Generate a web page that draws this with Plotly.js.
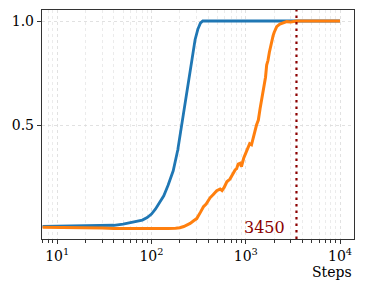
<!DOCTYPE html>
<html><head><meta charset="utf-8">
<script src="https://cdn.plot.ly/plotly-3.0.1.min.js"></script>
<style>html,body{margin:0;padding:0;background:#fff}#chart{width:366px;height:292px}</style>
</head><body><div id="chart"></div>
<script>
const blueSteps = [7,10,20,30,40,50,60,70,80,90,100,110,120,135,150,170,190,210,230,250,270,290,310,330,350,400,600,1000,2000,5000,10000];
const blueValues = [0.013,0.014,0.015,0.016,0.018,0.024,0.030,0.036,0.043,0.055,0.072,0.095,0.12,0.16,0.21,0.28,0.38,0.50,0.62,0.72,0.82,0.91,0.96,0.99,1.0,1.0,1.0,1.0,1.0,1.0,1.0];

const orangeSteps = [7,10,20,30,40,60,100,150,180,200,220,240,257,280,302,330,356,380,418,450,492,535,560,590,630,680,720,771,800,830,872,900,950,1000,1050,1100,1150,1200,1250,1300,1360,1420,1478,1520,1570,1620,1666,1720,1780,1830,1883,1950,2000,2128,2300,2500,2720,3000,3450,4000,5000,7000,10000];
const orangeValues = [0.008,0.008,0.007,0.005,0.003,0.002,0.002,0.003,0.004,0.006,0.012,0.020,0.027,0.040,0.050,0.080,0.107,0.120,0.150,0.165,0.184,0.192,0.185,0.200,0.227,0.240,0.262,0.284,0.290,0.312,0.316,0.300,0.340,0.365,0.380,0.410,0.405,0.444,0.470,0.500,0.524,0.580,0.628,0.640,0.700,0.730,0.788,0.810,0.850,0.880,0.900,0.930,0.945,0.973,0.985,0.990,0.997,0.995,1.0,1.0,1.0,1.0,1.0];

const markerStep = 3450;
const markerLabel = '3450';
const xTickVals = [10,100,1000,10000];
const xTickText = ['10<sup>1</sup>','10<sup>2</sup>','10<sup>3</sup>','10<sup>4</sup>'];
const yTickVals = [0.5,1.0];
const yTickText = ['0.5','1.0'];

const minorVals = [];
for (const d of [1,10,100,1000,10000]) for (let k=2;k<=9;k++) minorVals.push(k*d);

const yMin = -0.048, yMax = 1.053;
const font = {family:'DejaVu Serif, serif', size:14, color:'#000'};

const traces = [
  {x: blueSteps, y: blueValues, mode:'lines', line:{color:'#1f77b4', width:2.8}, hoverinfo:'skip'},
  {x: orangeSteps, y: orangeValues, mode:'lines', line:{color:'#ff7f0e', width:3}, hoverinfo:'skip'},
  {x: [markerStep, markerStep], y: [yMin, yMax], mode:'lines', line:{color:'#8b0000', width:2.2, dash:'2.5px,4px'}, hoverinfo:'skip'}
];

const layout = {
  width:366, height:292,
  margin:{l:42, r:12, t:10, b:53},
  paper_bgcolor:'#fff', plot_bgcolor:'#fff',
  showlegend:false,
  font: font,
  xaxis:{
    type:'log', range:[Math.log10(6.9), Math.log10(14060)],
    tickvals:xTickVals, ticktext:xTickText,
    ticks:'outside', ticklen:4, tickwidth:1, tickcolor:'#333',
    showline:true, linecolor:'#333', linewidth:1.2, mirror:true,
    showgrid:true, gridcolor:'#d9d9d9', gridwidth:0.8, griddash:'dot',
    zeroline:false,
    tickfont:font,
    minor:{tickvals:minorVals, ticks:'outside', ticklen:2.5, tickcolor:'#333', showgrid:true, gridcolor:'#e3e3e3', gridwidth:0.7, griddash:'dot'}
  },
  yaxis:{
    range:[yMin, yMax],
    tickvals:yTickVals, ticktext:yTickText,
    ticks:'outside', ticklen:4, tickwidth:1, tickcolor:'#333',
    showline:true, linecolor:'#333', linewidth:1.2, mirror:true,
    showgrid:true, gridcolor:'#d9d9d9', gridwidth:0.8, griddash:'dot',
    zeroline:false,
    tickfont:font
  },
  annotations:[
    {x:Math.log10(markerStep), y:0.005, xref:'x', yref:'y', text:markerLabel, showarrow:false,
     xanchor:'right', yanchor:'middle', xshift:-9, font:{family:'DejaVu Serif, serif', size:16, color:'#8b0000'}},
    {x:1, y:-0.145, xref:'paper', yref:'paper', text:'Steps', showarrow:false,
     xanchor:'right', yanchor:'middle', font:{family:'DejaVu Serif, serif', size:14, color:'#000'}}
  ]
};
Plotly.newPlot('chart', traces, layout, {displayModeBar:false, staticPlot:true});
</script></body></html>
